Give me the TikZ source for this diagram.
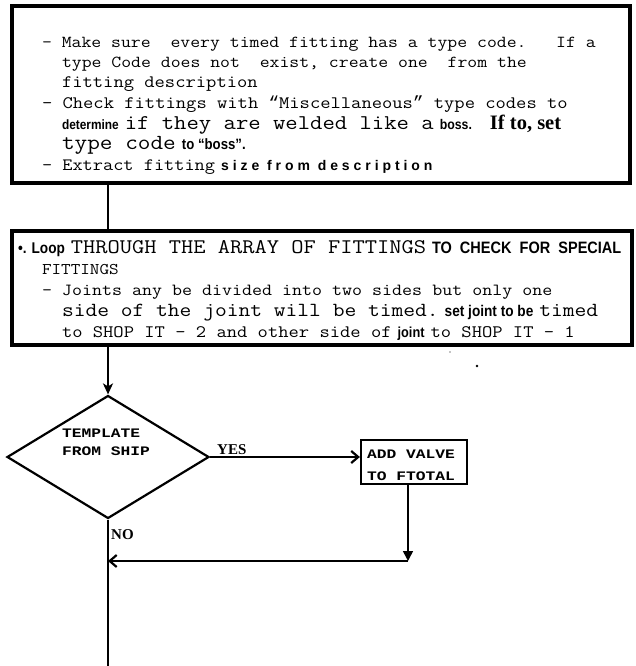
\documentclass[tikz,border=0pt]{standalone}
\usepackage{fontspec}
\setmonofont[FakeStretch=1.143]{Latin Modern Mono}
\newfontfamily\nsans[FakeStretch=0.88]{Liberation Sans}
\newfontfamily\lsans[LetterSpace=28]{Liberation Sans}
\newfontfamily\tser{Liberation Serif}
\newfontfamily\dmono[FakeStretch=1.25]{Liberation Mono}
\newfontfamily\qmono{Liberation Mono}
\newcommand\fsz[1]{\fontsize{#1}{#1}\selectfont}
\newcommand\myoq{{\qmono “}}
\newcommand\mycq{{\qmono ”}}
\usetikzlibrary{shapes.geometric,arrows.meta}
\tikzset{
  txt/.style={anchor=base west, inner sep=0pt, outer sep=0pt, font=\ttfamily},
  bigbox/.style={draw, line width=3.5pt, inner sep=0pt, outer sep=0pt},
  flow/.style={line width=2.2pt},
  dtxt/.style={anchor=base west, inner sep=0pt, font=\dmono\bfseries\fsz{13}},
  lab/.style={anchor=base west, inner sep=0pt, font=\tser\bfseries\fsz{15}},
}
\begin{document}
\begin{tikzpicture}[x=1pt,y=-1pt]
\useasboundingbox (0,0) rectangle (635,666);
% top box
\node[bigbox, minimum width=618pt, minimum height=177pt] (b1) at (321,94.5) {};
\node[txt] (a1) at (42,48) {\fsz{16.8}- Make sure~ every timed fitting has a type code.~~ If a};
\node[txt] (a2) at (62,68) {\fsz{16.8}type Code does not~ exist, create one~ from the};
\node[txt] (a3) at (62,88) {\fsz{17.5}fitting description};
\node[txt] (a4) at (42,109) {\fsz{17.5}- Check fittings with \myoq Miscellaneous\mycq{} type codes to};
\node[txt] (a5) at (62,129) {{\nsans\bfseries\fsz{13.5}determine} {\fsz{21}if they are welded like a} {\nsans\bfseries\fsz{14}boss.}~~~{\tser\bfseries\fsz{20.5}If to, set}};
\node[txt] (a6) at (62,149) {{\fsz{21.5}type code} {\nsans\bfseries\fsz{15}to “boss”.}};
\node[txt] (a7) at (42,170) {{\fsz{17.3}- Extract fitting} {\lsans\bfseries\fsz{14}size from description}};
% second box
\node[bigbox, minimum width=620pt, minimum height=114pt] (b2) at (322,288) {};
\node[txt] (c1) at (18,253) {{\nsans\bfseries\fsz{15.5}•. Loop} {\fsz{20.8}THROUGH THE ARRAY OF FITTINGS} {\nsans\bfseries\fsz{16.5}TO~ CHECK~ FOR~ SPECIAL}};
\node[txt] (c2) at (42,274) {\fsz{16.3}FITTINGS};
\node[txt] (c3) at (42,295) {\fsz{17}- Joints any be divided into two sides but only one};
\node[txt] (c4) at (62,316) {{\fsz{20}side of the joint will be timed.} {\nsans\bfseries\fsz{15.5}set joint to be} {\fsz{20}timed}};
\node[txt] (c5) at (62,337) {{\fsz{17.5}to SHOP IT - 2 and other side of} {\nsans\bfseries\fsz{14.5}joint} {\fsz{17.5}to SHOP IT - 1}};
% decision
\node[draw, shape=diamond, line width=2.2pt, minimum width=202pt, minimum height=123pt, inner sep=0pt] (d) at (108,457) {};
\node[dtxt] (t1) at (62,437) {TEMPLATE};
\node[dtxt] (t2) at (62,455) {FROM SHIP};
% process box
\node[draw, line width=2.2pt, minimum width=106pt, minimum height=44pt, inner sep=0pt] (b3) at (414,462) {};
\node[dtxt] (v1) at (367,458) {ADD VALVE};
\node[dtxt] (v2) at (367,480) {TO FTOTAL};
\node[lab] (yes) at (217,454) {YES};
\node[lab] (no) at (111,539) {NO};
\coordinate (j) at (408,561);
\coordinate (e) at (108,666);
% connectors
\draw[flow] (b1.south -| d.north) -- (b2.north -| d.north);
\draw[flow,-{Stealth[length=11pt,width=10pt,inset=3pt]}] (b2.south -| d.north) -- (d.north);
\draw[flow,-{Straight Barb[length=7pt,width=12pt]}] (d.east) -- (d.east -| b3.west);
\draw[line width=1.6pt,-{Triangle[length=10pt,width=10pt]}] (b3.south -| j) -- (j);
\draw[flow,-{Straight Barb[length=7pt,width=12pt]}] (j) -- (j -| d.south);
\draw[flow] (d.south) -- (e);
% scan specks
\fill (477,366) circle (1.3pt);
\fill (450,352) circle (0.6pt);
\end{tikzpicture}
\end{document}
